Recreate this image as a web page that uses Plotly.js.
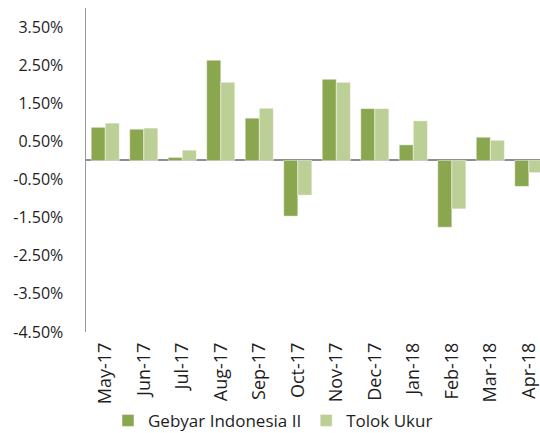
<!DOCTYPE html>
<html>
<head>
<meta charset="utf-8">
<script src="https://cdn.plot.ly/plotly-3.0.1.min.js"></script>
<style>
html,body{margin:0;padding:0;overflow:hidden;background:#fff;}
#chart{width:540px;height:433px;}
</style>
</head>
<body>
<div id="chart"></div>
<script>
var months = ["May-17","Jun-17","Jul-17","Aug-17","Sep-17","Oct-17","Nov-17","Dec-17","Jan-18","Feb-18","Mar-18","Apr-18"];
var gebyar = [0.87, 0.82, 0.08, 2.63, 1.11, -1.46, 2.13, 1.36, 0.41, -1.75, 0.61, -0.68];
var tolok  = [0.98, 0.85, 0.27, 2.05, 1.37, -0.91, 2.05, 1.36, 1.04, -1.27, 0.53, -0.32];
var seriesNames = ["Gebyar Indonesia II", "Tolok Ukur"];
var yTicks = [3.5, 2.5, 1.5, 0.5, -0.5, -1.5, -2.5, -3.5, -4.5];
var yTickText = yTicks.map(function(v){ return v.toFixed(2) + "%"; });

var FONT = "Open Sans, DejaVu Sans, sans-serif";
var traces = [
  {type:"bar", name:seriesNames[0], x:months, y:gebyar,
   marker:{color:"#8AA64E", line:{color:"rgba(255,255,255,0.45)", width:1}}},
  {type:"bar", name:seriesNames[1], x:months, y:tolok,
   marker:{color:"#BBCF96", line:{color:"rgba(255,255,255,0.45)", width:1}}}
];
var layout = {
  width:540, height:433,
  margin:{l:86, r:0, t:8, b:101, pad:0},
  paper_bgcolor:"#fff", plot_bgcolor:"#fff",
  font:{family:FONT, color:"#1e1e1e"},
  barmode:"group", bargap:0.27, bargroupgap:0,
  showlegend:true,
  legend:{orientation:"h", xref:"container", yref:"container", x:0.2, xanchor:"left", y:0.028, yanchor:"middle",
          font:{family:FONT, size:17, color:"#1e1e1e"}, bgcolor:"rgba(0,0,0,0)", itemclick:false},
  xaxis:{type:"category", range:[-0.5, 11.29], tickangle:-90, showgrid:false, showline:false, zeroline:false,
         ticks:"", ticklabelstandoff:6, tickfont:{family:FONT, size:18, color:"#1e1e1e"}, fixedrange:true},
  yaxis:{range:[-4.5, 4.0], tickvals:yTicks, ticktext:yTickText, showgrid:false,
         showline:true, linecolor:"#999999", linewidth:1.5,
         zeroline:true, zerolinecolor:"#8E8E8E", zerolinewidth:2,
         ticks:"", ticklabelstandoff:18, tickfont:{family:FONT, size:16, color:"#1e1e1e"}, fixedrange:true}
};
Plotly.newPlot("chart", traces, layout, {displayModeBar:false, staticPlot:true});
</script>
</body>
</html>
